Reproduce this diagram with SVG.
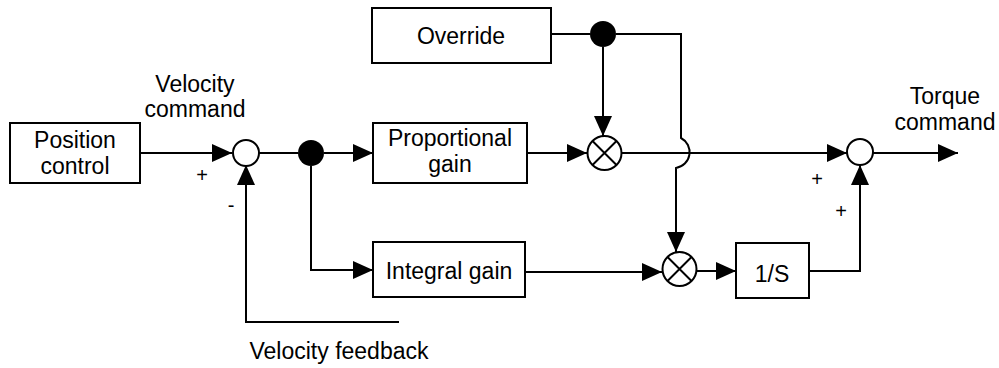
<svg xmlns="http://www.w3.org/2000/svg" width="999" height="368" viewBox="0 0 999 368">
<style>
.box{fill:#fff;stroke:#000;stroke-width:2}
.ln{fill:none;stroke:#000;stroke-width:2}
.t{font-family:"Liberation Sans",Arial,sans-serif;font-size:23px;fill:#000;text-anchor:middle}
.s{font-family:"Liberation Sans",Arial,sans-serif;font-size:20px;fill:#000;text-anchor:middle}
.circ{fill:#fff;stroke:#000;stroke-width:2}
.dot{fill:#000}
</style>
<defs>
<marker id="ah" viewBox="0 0 20 18" refX="20" refY="9" markerWidth="20" markerHeight="18" markerUnits="userSpaceOnUse" orient="auto">
<path d="M0,0 L20,9 L0,18 Z" fill="#000"/>
</marker>
</defs>
<rect width="999" height="368" fill="#fff"/>
<g id="connectors">
<path class="ln" d="M140,153 H232" marker-end="url(#ah)"/>
<path class="ln" d="M259,153 H298"/>
<path class="ln" d="M324,153 H373" marker-end="url(#ah)"/>
<path class="ln" d="M527,153 H587" marker-end="url(#ah)"/>
<path class="ln" d="M622,153 H847" marker-end="url(#ah)"/>
<path class="ln" d="M873,153 H958" marker-end="url(#ah)"/>
<path class="ln" d="M551,34 H590"/>
<path class="ln" d="M603,47 V136" marker-end="url(#ah)"/>
<path class="ln" d="M616,34 H681 V138 A16,16 0 0 1 676,168 V252" marker-end="url(#ah)"/>
<path class="ln" d="M311,166 V270 H373" marker-end="url(#ah)"/>
<path class="ln" d="M525,272 H662" marker-end="url(#ah)"/>
<path class="ln" d="M697,271 H736" marker-end="url(#ah)"/>
<path class="ln" d="M809,271 H860 V165" marker-end="url(#ah)"/>
<path class="ln" d="M399,322 H246 V165" marker-end="url(#ah)"/>
</g>
<g id="position-control">
<rect class="box" x="10" y="123" width="130" height="60"/>
<text class="t" x="75" y="148">Position</text>
<text class="t" x="75" y="174">control</text>
</g>
<g id="sum1"><circle class="circ" cx="246" cy="153" r="13"/></g>
<g id="branch1"><circle class="dot" cx="311" cy="153" r="13"/></g>
<g id="proportional-gain">
<rect class="box" x="373" y="123" width="154" height="60"/>
<text class="t" x="450" y="146">Proportional</text>
<text class="t" x="450" y="172">gain</text>
</g>
<g id="override">
<rect class="box" x="372" y="8" width="179" height="55"/>
<text class="t" x="461" y="44">Override</text>
</g>
<g id="branch2"><circle class="dot" cx="603" cy="34" r="13"/></g>
<g id="mult1">
<circle class="circ" cx="604.5" cy="153" r="17"/>
<path class="ln" d="M592.5,141 L616.5,165 M616.5,141 L592.5,165" stroke-width="1.5"/>
</g>
<g id="integral-gain">
<rect class="box" x="373" y="242" width="152" height="55"/>
<text class="t" x="449" y="279">Integral gain</text>
</g>
<g id="mult2">
<circle class="circ" cx="679.5" cy="269" r="17"/>
<path class="ln" d="M667.5,257 L691.5,281 M691.5,257 L667.5,281" stroke-width="1.5"/>
</g>
<g id="integrator">
<rect class="box" x="736" y="243" width="73" height="55"/>
<text class="t" x="772" y="282">1/S</text>
</g>
<g id="sum2"><circle class="circ" cx="860" cy="152" r="13"/></g>
<g id="labels">
<text class="t" x="195" y="92">Velocity</text>
<text class="t" x="195" y="117">command</text>
<text class="t" x="945" y="104">Torque</text>
<text class="t" x="945" y="130">command</text>
<text class="t" x="339" y="359">Velocity feedback</text>
<text class="s" x="202" y="182">+</text>
<text class="s" x="231" y="212">-</text>
<text class="s" x="817" y="186">+</text>
<text class="s" x="841" y="218">+</text>
</g>
</svg>
